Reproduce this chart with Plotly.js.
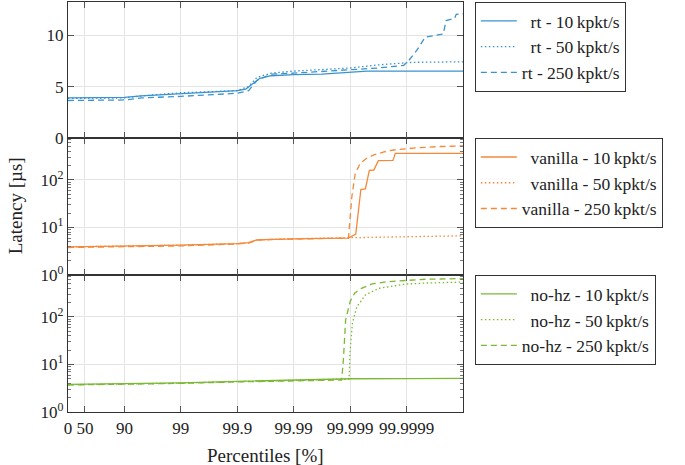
<!DOCTYPE html>
<html>
<head>
<meta charset="utf-8">
<script src="https://cdn.plot.ly/plotly-3.0.1.min.js"></script>
<style>
  body { margin: 0; background: #fff; }
  #chart { width: 685px; height: 465px; }
</style>
</head>
<body>
<div id="chart"></div>
<script>
// x positions are in "nines": -log10(1 - p), so 99.9 % -> 3
const tickNines = [0, 0.30103, 1, 2, 3, 4, 5, 6];
const tickLabels = ['0', '50', '90', '99', '99.9', '99.99', '99.999', '99.9999'];
const minorLogTicks = [2, 3, 4, 5, 6, 7, 8, 9, 20, 30, 40, 50, 60, 70, 80, 90, 200, 300, 400, 500, 600, 700];

// rt (top panel, linear, µs)
const rt10X = [0, 0.3, 1, 1.3, 2, 2.5, 3, 3.15, 3.25, 3.4, 3.6, 4, 4.5, 5, 5.3, 7];
const rt10Y = [3.9, 3.9, 3.95, 4.1, 4.3, 4.4, 4.6, 4.75, 5.2, 5.8, 6.05, 6.15, 6.2, 6.4, 6.5, 6.5];
const rt50X = [0, 1, 1.3, 2, 3, 3.2, 3.35, 3.6, 4, 4.5, 5, 5.5, 6.1, 7];
const rt50Y = [3.85, 3.9, 4.1, 4.4, 4.6, 5.0, 5.9, 6.3, 6.5, 6.65, 6.8, 7.1, 7.35, 7.4];
const rt250X = [0, 1, 1.3, 2, 3, 3.2, 3.35, 3.6, 4, 4.5, 5, 5.5, 5.95, 6.05, 6.18, 6.33, 6.65, 6.7, 6.85, 6.88, 7];
const rt250Y = [3.65, 3.7, 3.9, 4.05, 4.35, 4.6, 5.6, 6.2, 6.3, 6.45, 6.6, 6.8, 7.06, 7.6, 8.5, 9.8, 10.1, 11.4, 11.6, 12.0, 12.06];

// vanilla (middle panel, log)
const van10X = [0, 1, 2, 3, 3.2, 3.35, 3.6, 4, 4.5, 4.97, 5.1, 5.19, 5.27, 5.34, 5.42, 5.5, 5.76, 5.8, 7];
const van10Y = [3.9, 4.0, 4.25, 4.6, 4.8, 5.5, 5.65, 5.75, 5.9, 6.0, 7.3, 63, 65, 160, 162, 255, 258, 364, 364];
const van50X = [0, 1, 2, 3, 3.2, 3.35, 3.6, 4, 4.5, 5, 5.5, 6.24, 7];
const van50Y = [3.9, 4.0, 4.25, 4.6, 4.8, 5.5, 5.65, 5.8, 5.95, 6.1, 6.25, 6.4, 6.7];
const van250X = [0, 1, 2, 3, 3.2, 3.35, 3.6, 4, 4.5, 4.97, 5.03, 5.09, 5.18, 5.3, 5.42, 5.6, 5.77, 6.0, 6.24, 6.6, 7];
const van250Y = [3.8, 3.9, 4.1, 4.5, 4.7, 5.4, 5.6, 5.7, 5.85, 6.0, 44, 138, 225, 290, 336, 390, 427, 455, 480, 505, 522];

// no-hz (bottom panel, log)
const nohz10X = [0, 1, 2, 3, 4, 5, 6, 7];
const nohz10Y = [3.8, 3.9, 4.1, 4.4, 4.7, 5.0, 5.05, 5.1];
const nohz50X = [0, 1, 2, 3, 4, 4.98, 5.0, 5.04, 5.12, 5.27, 5.51, 5.98, 6.33, 7];
const nohz50Y = [3.75, 3.85, 4.05, 4.35, 4.6, 4.9, 20, 74, 165, 290, 400, 490, 515, 540];
const nohz250X = [0, 1, 2, 3, 4, 4.85, 4.88, 4.92, 5.0, 5.08, 5.2, 5.39, 5.66, 6.0, 6.33, 7];
const nohz250Y = [3.7, 3.8, 4.0, 4.3, 4.5, 4.7, 12.4, 86, 210, 316, 400, 495, 550, 590, 620, 640];

const BLUE = '#3a93cf';
const ORANGE = '#f5893a';
const GREEN = '#7bb934';
const FONT = '"Liberation Serif", "DejaVu Serif", serif';
const DOT = '1.5px,2.5px';
const DASH = '6px,4px';
const FS = '\u2007'; // figure space, pads labels so they line up on the right

function trace(x, y, name, color, dash, xa, ya, legend) {
  return {
    x: x, y: y, name: name, type: 'scatter', mode: 'lines',
    xaxis: xa, yaxis: ya, legend: legend,
    line: {color: color, width: 1.3, dash: dash}
  };
}

const data = [
  trace(rt10X, rt10Y, FS + 'rt - 10\u2009kpkt/s', BLUE, 'solid', 'x3', 'y3', 'legend'),
  trace(rt50X, rt50Y, FS + 'rt - 50\u2009kpkt/s', BLUE, DOT, 'x3', 'y3', 'legend'),
  trace(rt250X, rt250Y, 'rt - 250\u2009kpkt/s', BLUE, DASH, 'x3', 'y3', 'legend'),
  trace(van10X, van10Y, FS + 'vanilla - 10\u2009kpkt/s', ORANGE, 'solid', 'x2', 'y2', 'legend2'),
  trace(van50X, van50Y, FS + 'vanilla - 50\u2009kpkt/s', ORANGE, DOT, 'x2', 'y2', 'legend2'),
  trace(van250X, van250Y, 'vanilla - 250\u2009kpkt/s', ORANGE, DASH, 'x2', 'y2', 'legend2'),
  trace(nohz10X, nohz10Y, FS + 'no-hz - 10\u2009kpkt/s', GREEN, 'solid', 'x', 'y', 'legend3'),
  trace(nohz50X, nohz50Y, FS + 'no-hz - 50\u2009kpkt/s', GREEN, DOT, 'x', 'y', 'legend3'),
  trace(nohz250X, nohz250Y, 'no-hz - 250\u2009kpkt/s', GREEN, DASH, 'x', 'y', 'legend3')
];

const axisCommon = {
  showline: true, linecolor: '#333', linewidth: 1.2, mirror: 'allticks',
  ticks: 'inside', ticklen: 6, tickcolor: '#555', tickwidth: 1,
  showgrid: true, gridcolor: '#e4e4e4', gridwidth: 1, zeroline: false,
  tickfont: {family: FONT, size: 17, color: '#222'}
};

function xAxis(anchor, labels) {
  return Object.assign({}, axisCommon, {
    anchor: anchor, range: [0, 7], tickmode: 'array',
    tickvals: tickNines, ticktext: tickLabels, showticklabels: labels,
    matches: anchor === 'y' ? undefined : 'x'
  });
}

function logAxis(domain, anchor, vals, texts) {
  return Object.assign({}, axisCommon, {
    type: 'log', domain: domain, anchor: anchor, range: [0, 2.88],
    tickmode: 'array', tickvals: vals, ticktext: texts,
    minor: {tickmode: 'array', tickvals: minorLogTicks, ticks: 'inside',
      ticklen: 3, tickcolor: '#777', showgrid: false}
  });
}

const sup = n => '10<sup>' + n + '</sup>';

function legendBox(y) {
  return {
    x: 1.03, xanchor: 'left', y: y, yanchor: 'top',
    bordercolor: '#333', borderwidth: 1, bgcolor: '#fff',
    font: {family: FONT, size: 17.5, color: '#222'},
    itemwidth: 36, tracegroupgap: 0
  };
}

const layout = {
  width: 685, height: 465,
  margin: {l: 68, r: 222, t: 2, b: 53},
  paper_bgcolor: '#fff', plot_bgcolor: '#fff',
  font: {family: FONT, size: 17, color: '#222'},
  xaxis: xAxis('y', true),
  xaxis2: xAxis('y2', false),
  xaxis3: xAxis('y3', false),
  yaxis: logAxis([0, 0.334], 'x', [1, 10, 100], [sup(0), sup(1), sup(2)]),
  yaxis2: logAxis([0.334, 0.668], 'x2', [1, 10, 100], [sup(0), sup(1), sup(2)]),
  yaxis3: Object.assign({}, axisCommon, {
    domain: [0.668, 1], anchor: 'x3', range: [0, 13.2],
    tickmode: 'array', tickvals: [0, 5, 10]
  }),
  legend: legendBox(1.0),
  legend2: legendBox(0.668),
  legend3: legendBox(0.334),
  annotations: [
    {text: 'Latency [µs]', xref: 'paper', yref: 'paper', x: -0.134, y: 0.502,
      xanchor: 'center', yanchor: 'middle', textangle: -90, showarrow: false,
      font: {family: FONT, size: 19, color: '#222'}},
    {text: 'Percentiles [%]', xref: 'paper', yref: 'paper', x: 0.5, y: -0.105,
      xanchor: 'center', yanchor: 'middle', showarrow: false,
      font: {family: FONT, size: 19, color: '#222'}}
  ]
};

Plotly.newPlot('chart', data, layout, {displayModeBar: false, staticPlot: true});
</script>
</body>
</html>
